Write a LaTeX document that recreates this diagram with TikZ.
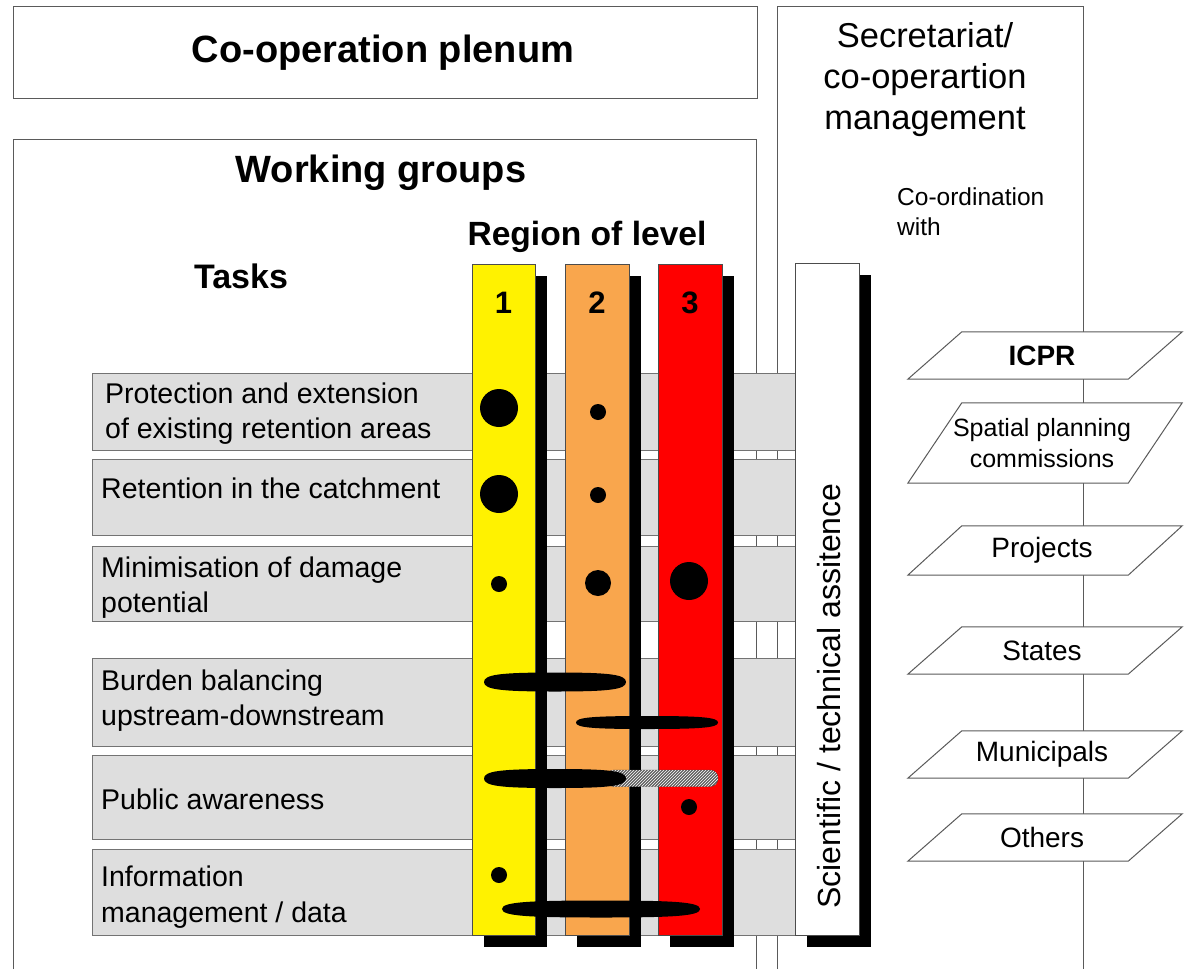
\documentclass[tikz,border=0pt]{standalone}
\usepackage{fontspec}
\setmainfont{Liberation Sans}
\usetikzlibrary{patterns,backgrounds}

\definecolor{taskgray}{RGB}{222,222,222}
\definecolor{lvlorange}{RGB}{249,166,77}
\definecolor{framegray}{RGB}{90,90,90}

% filled bar from x #1 to x #2 at height #3, half thickness #4
\newcommand{\lensbar}[4]{%
    \fill (#1,#3) .. controls (#1,#3-0.8*#4) and ({#1+0.12*(#2-#1)},#3-#4) .. ({(#1+#2)/2},#3-#4)
        .. controls ({#2-0.12*(#2-#1)},#3-#4) and (#2,#3-0.8*#4) .. (#2,#3)
        .. controls (#2,#3+0.8*#4) and ({#2-0.12*(#2-#1)},#3+#4) .. ({(#1+#2)/2},#3+#4)
        .. controls ({#1+0.12*(#2-#1)},#3+#4) and (#1,#3+0.8*#4) .. (#1,#3) -- cycle;}

\begin{document}
\begin{tikzpicture}[x=1pt,y=-1pt,
        frame/.style={draw=framegray, line width=1pt},
        taskbox/.style={draw=framegray!85, fill=taskgray, line width=1pt},
        column/.style={draw=black!70, line width=0.8pt},
        shade/.style={fill=black},
        tasktext/.style={anchor=base west, align=left, inner sep=0pt, font=\fontsize{28.5}{35.5}\selectfont},
        party/.style={minimum width=220pt, inner sep=0pt, align=center, font=\fontsize{28}{31}\selectfont}]
        \useasboundingbox (0,0) rectangle (1185,969);
        % outer frames
        \begin{scope}[on background layer]
        \draw[frame] (13,6) rectangle (757,98);
        \draw[frame] (13,969) -- (13,139) -- (756,139) -- (756,969);
        \draw[frame] (777,969) -- (777,6) -- (1083,6) -- (1083,969);
        \end{scope}
        \node[anchor=base, font=\bfseries\fontsize{38}{38}\selectfont] at (383,62) (plenum) {Co-operation plenum};
        \node[anchor=base, font=\bfseries\fontsize{38}{38}\selectfont] at (381,182) (wgroups) {Working groups};
        \node[anchor=base, font=\bfseries\fontsize{33.6}{34}\selectfont] at (587,245) (region) {Region of level};
        \node[anchor=base, font=\bfseries\fontsize{34}{34}\selectfont] at (241,288) (tasks) {Tasks};
        \node[anchor=base, align=center, font=\fontsize{34.5}{41}\selectfont] at (925,129) (secr) {Secretariat/\\co-operartion\\management};
        \node[anchor=base west, align=left, inner sep=0pt, font=\fontsize{24.5}{30.5}\selectfont] at (897,235.5) (coord) {Co-ordination\\with};
        % task rows
        \foreach \ya/\yb in {373/450, 459/535, 546/621, 658/746, 755/839, 849/935}
            \draw[taskbox] (92,\ya) rectangle (797,\yb);
        \node[tasktext] at (105,438.5) (t1) {Protection and extension\\of existing retention areas};
        \node[tasktext] at (101,498) (t2) {Retention in the catchment};
        \node[tasktext] at (101,612.5) (t3) {Minimisation of damage\\potential};
        \node[tasktext] at (101,725.5) (t4) {Burden balancing\\upstream-downstream};
        \node[tasktext] at (101,809) (t5) {Public awareness};
        \node[tasktext] at (101,922) (t6) {Information\\management / data};
        % level columns
        \foreach \xa/\xb/\col/\num in {472/535/yellow/1, 565/629/lvlorange/2, 658/722/red/3} {
            \fill[shade] (\xa+12,276) rectangle (\xb+12,947);
            \draw[column, fill=\col] (\xa,264) rectangle (\xb,935);
            \node[anchor=base, font=\bfseries\fontsize{31}{31}\selectfont] at ({(\xa+\xb)/2},313) (lvl\num) {\num};
        }
        \fill[shade] (807,275) rectangle (871,947);
        \draw[column, fill=white] (795,263) rectangle (859,935);
        \node[rotate=90, font=\fontsize{32}{32}\selectfont] at (829,696) (assist) {Scientific / technical assitence};
        % ratings
        \fill (499,408) circle[radius=19pt];
        \fill (598,412) circle[radius=8pt];
        \fill (499,494) circle[radius=19pt];
        \fill (598,495) circle[radius=8pt];
        \fill (499,584) circle[radius=8pt];
        \fill (598,583) circle[radius=13pt];
        \fill (689,581) circle[radius=19pt];
        \lensbar{484}{626}{682}{9.5}
        \lensbar{576}{718}{722.5}{6.5}
        \draw[black!70, fill=gray!75!black, postaction={pattern=north east lines, pattern color=white}, rounded corners=8pt] (606,770) rectangle (718,786.5);
        \lensbar{484}{626}{778.5}{9.5}
        \fill (689,807) circle[radius=8pt];
        \fill (499,875) circle[radius=8pt];
        \lensbar{502}{700}{909}{8.5}
        % co-ordination partners
        \node[party, minimum height=47pt] at (1042,355.5) (icpr) {\textbf{ICPR}};
        \node[party, minimum height=80pt, font=\fontsize{25}{31}\selectfont] at (1042,443) (spatial) {Spatial planning\\commissions};
        \node[party, minimum height=49pt] at (1042,550.5) (projects) {Projects};
        \node[party, minimum height=47pt] at (1042,650.5) (states) {States};
        \node[party, minimum height=47pt] at (1042,754.5) (municipals) {Municipals};
        \node[party, minimum height=47pt] at (1042,837.5) (others) {Others};
        \begin{scope}[on background layer]
        \foreach \p in {icpr,spatial,projects,states,municipals,others}
            \draw[frame, fill=white] ([xshift=30pt]\p.north west) -- ([xshift=30pt]\p.north east)
                -- ([xshift=-24pt]\p.south east) -- ([xshift=-24pt]\p.south west) -- cycle;
        \end{scope}
\end{tikzpicture}
\end{document}
